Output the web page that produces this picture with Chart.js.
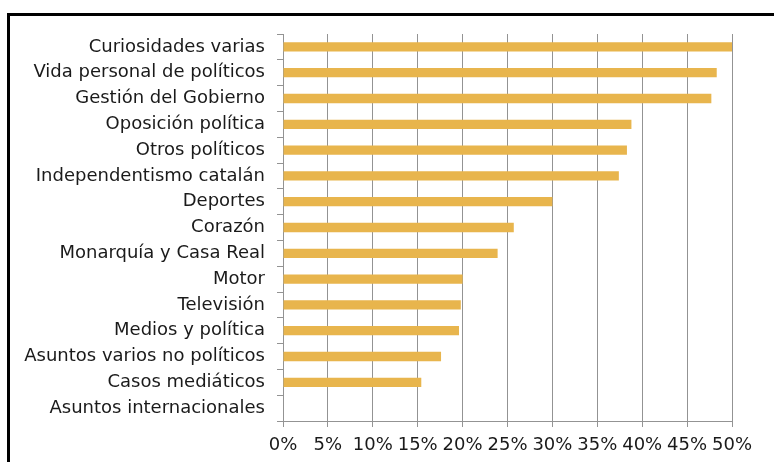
<!DOCTYPE html>
<html>
<head>
<meta charset="utf-8">
<script src="https://cdn.jsdelivr.net/npm/chart.js@4"></script>
<style>
  body { margin: 0; background: #fff; }
  #wrap { position: relative; width: 774px; height: 462px; overflow: hidden; }
  #frame { position: absolute; left: 7px; top: 13px; width: 800px; height: 500px;
           border-left: 3px solid #000; border-top: 3px solid #000; }
  canvas { position: absolute; left: 0; top: 0; }
</style>
</head>
<body>
<div id="wrap">
  <div id="frame"></div>
  <canvas id="topicsChart" width="774" height="462"></canvas>
</div>
<script>
var categories = [
  "Curiosidades varias",
  "Vida personal de políticos",
  "Gestión del Gobierno",
  "Oposición política",
  "Otros políticos",
  "Independentismo catalán",
  "Deportes",
  "Corazón",
  "Monarquía y Casa Real",
  "Motor",
  "Televisión",
  "Medios y política",
  "Asuntos varios no políticos",
  "Casos mediáticos",
  "Asuntos internacionales"
];
var shares = [50, 48.3, 47.7, 38.8, 38.3, 37.4, 30.0, 25.7, 23.9, 20.0, 19.8, 19.6, 17.6, 15.4, 0];
var xTicks = [0, 5, 10, 15, 20, 25, 30, 35, 40, 45, 50];

var topicsChart;

function initChart() {
  var ctx = document.getElementById("topicsChart").getContext("2d");
  topicsChart = new Chart(ctx, {
    type: "bar",
    data: {
      labels: categories,
      datasets: [
        {
          label: "Temas",
          data: shares,
          backgroundColor: "rgb(232, 181, 77)",
          borderWidth: 0,
          barPercentage: 0.36,
          categoryPercentage: 1,
        },
      ],
    },
    options: {
      indexAxis: "y",
      responsive: false,
      animation: false,
      layout: { padding: { top: 34, right: 42, bottom: 0, left: 0 } },
      plugins: { legend: { display: false }, tooltip: { enabled: false } },
      scales: {
        x: {
          min: 0,
          max: 50,
          afterBuildTicks: function (scale) {
            scale.ticks = xTicks.map(function (v) { return { value: v }; });
          },
          afterFit: function (scale) { scale.height = 41; },
          grid: { color: "#939393", lineWidth: 1, tickLength: 6, drawTicks: true },
          border: { color: "#939393" },
          ticks: {
            padding: 8,
            maxRotation: 0,
            autoSkip: false,
            color: "#1a1a1a",
            font: { family: "DejaVu Sans", size: 18 },
            callback: function (v) { return v + "%"; },
          },
        },
        y: {
          afterFit: function (scale) { scale.width = 283; },
          grid: { drawOnChartArea: false, drawTicks: true, tickLength: 6, color: "#939393", offset: true },
          border: { color: "#939393" },
          ticks: {
            padding: 12,
            autoSkip: false,
            color: "#1a1a1a",
            font: { family: "DejaVu Sans", size: 18 },
          },
        },
      },
    },
  });
}

document.addEventListener("DOMContentLoaded", function () {
  initChart();
});
</script>
</body>
</html>
